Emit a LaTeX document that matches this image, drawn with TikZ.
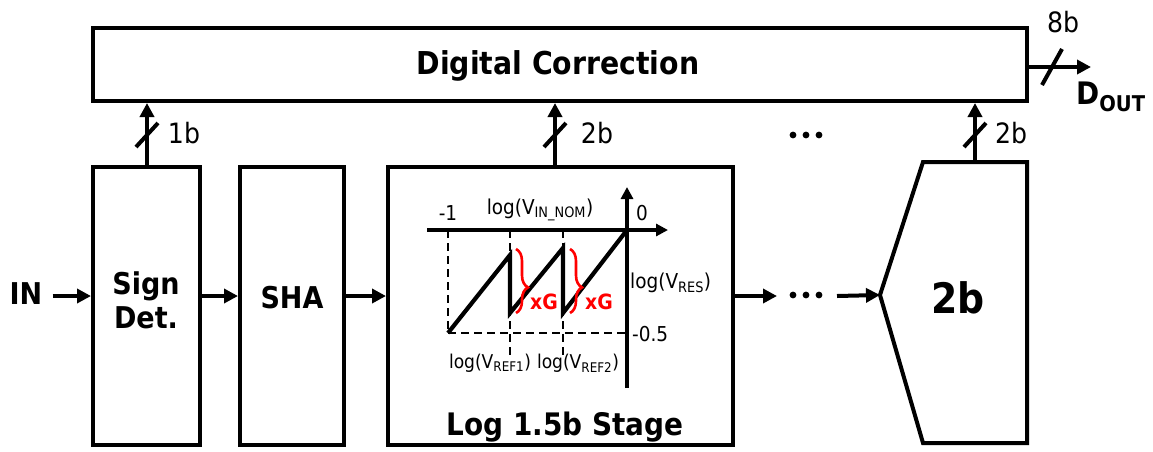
\documentclass[tikz,border=0pt]{standalone}
\usepackage{fontspec}
\setmainfont{DejaVu Sans Condensed}
\usetikzlibrary{arrows.meta,decorations.pathreplacing}

\tikzset{
  wire/.style={line width=4pt},
  arr/.style={wire, -{Triangle[length=14pt,width=14pt]}},
  blk/.style={draw, line width=4pt, inner sep=0pt, align=center,
              font=\fontsize{30}{32}\selectfont\bfseries},
  buslbl/.style={font=\fontsize{28}{30}\selectfont, inner sep=0pt},
  axis/.style={line width=3.5pt},
  guide/.style={line width=2.5pt, dash pattern=on 8pt off 5pt},
  curve/.style={line width=4.2pt, line join=miter},
  glbl/.style={font=\fontsize{20.5}{22}\selectfont, inner sep=0pt},
  reflbl/.style={font=\fontsize{19}{20}\selectfont, inner sep=0pt},
  gain/.style={red, line width=2.6pt, decorate,
               decoration={brace, amplitude=12pt, aspect=0.6}},
  gainlbl/.style={red, font=\fontsize{21}{22}\selectfont\bfseries, inner sep=0pt},
}

\begin{document}
\begin{tikzpicture}[x=1pt, y=-1pt]
\useasboundingbox (0,0) rectangle (1153,451);

% ---- blocks ----
\node[blk, minimum width=934pt, minimum height=73pt] (dc) at (560,64.5) {};
\node[font=\fontsize{31.5}{33}\selectfont\bfseries, inner sep=0pt] (dctxt) at (558,66) {Digital Correction};
\node[blk, minimum width=107pt, minimum height=278pt] (sign) at (146.5,306) {};
\node[blk, minimum width=104pt, minimum height=278pt] (sha) at (292,306) {};
\node[blk, minimum width=345pt, minimum height=278pt] (log) at (560.5,306) {};

\node[font=\fontsize{30}{34}\selectfont\bfseries, align=center, inner sep=0pt]
  (signtxt) at (146,300) {Sign\\Det.};
\node[font=\fontsize{30}{32}\selectfont\bfseries, inner sep=0pt] (shatxt) at (292,298) {SHA};
\node[font=\fontsize{31}{33}\selectfont\bfseries, inner sep=0pt] (logtxt) at (565,427) {Log 1.5b Stage};

% last 2b stage (pointed input side)
\coordinate (tl) at (923,162);
\coordinate (tr) at (1027,162);
\coordinate (br) at (1027,443);
\coordinate (bl) at (923,443);
\coordinate (tip) at (880,295);
\draw[wire, line join=miter] (tl) -- (tr) -- (br) -- (bl) -- (tip) -- cycle;
\node[font=\fontsize{42}{44}\selectfont\bfseries, inner sep=0pt] (last) at (958,298) {2b};

% ---- signal chain ----
\node[font=\fontsize{30}{32}\selectfont\bfseries, inner sep=0pt] (in) at (26,294) {IN};
\coordinate (chain) at (0,296);
\draw[arr] ([xshift=10pt]in.east |- chain) -- (sign.west |- chain);
\draw[arr] (sign.east |- chain) -- (sha.west |- chain);
\draw[arr] (sha.east |- chain) -- (log.west |- chain);
\coordinate (gap1) at (777,296);
\coordinate (gap2) at (837,296);
\draw[arr] (log.east |- chain) -- (gap1);
\draw[arr] (gap2) -- (tip);
\foreach \x in {793,806,819} \fill (\x,295) circle (3.4pt);
\foreach \x in {793,806,819} \fill (\x,135) circle (3.4pt);

% ---- digital outputs ----
\coordinate (s1) at (147,135);
\draw[arr] (sign.north -| s1) -- (dc.south -| s1);
\draw[wire] ([shift={(-11,12)}]s1) -- ([shift={(11,-12)}]s1);
\node[buslbl] at (184,133) {1b};

\coordinate (s2) at (555,135);
\draw[arr] (log.north -| s2) -- (dc.south -| s2);
\draw[wire] ([shift={(-11,12)}]s2) -- ([shift={(11,-12)}]s2);
\node[buslbl] at (597,133) {2b};

\coordinate (s3) at (975,135);
\draw[arr] (tl -| s3) -- (dc.south -| s3);
\draw[wire] ([shift={(-11,12)}]s3) -- ([shift={(11,-12)}]s3);
\node[buslbl] at (1011,133) {2b};

\coordinate (s4) at (1052,67);
\coordinate (dout) at (1091,67);
\draw[arr] (dc.east |- dout) -- (dout);
\draw[wire] ([shift={(-10,18)}]s4) -- ([shift={(10,-18)}]s4);
\node[buslbl] at (1063,22) {8b};
\node[font=\fontsize{31}{33}\selectfont\bfseries, inner sep=0pt, anchor=west] (doutlbl) at (1076,97)
  {D\textsubscript{OUT}};

% ---- log residue transfer curve ----
\coordinate (o) at (627,230);
\coordinate (xa) at (668,230);
\coordinate (xs) at (427,230);
\coordinate (ya) at (627,187);
\coordinate (ys) at (627,388);
\draw[guide] (448,230) -- (448,333);
\draw[guide] (510,230) -- (510,355);
\draw[guide] (563,230) -- (563,355);
\draw[guide] (448,333) -- (627,333);
\draw[axis, -{Triangle[length=12pt,width=12pt]}] (xs) -- (xa);
\draw[axis, -{Triangle[length=12pt,width=12pt]}] (ys) -- (ya);
\draw[curve] (448,333) -- (510,255) -- (510,313) -- (563,248) -- (563,313) -- (o);

\draw[gain] (516,249) -- (516,313);
\draw[gain] (570,249) -- (570,313);
\node[gainlbl] at (544,302) {xG};
\node[gainlbl] at (599,302) {xG};

\node[glbl] at (448,213) {-1};
\node[glbl] at (642,213) {0};
\node[glbl] at (540,210) {log(V\textsubscript{IN\_NOM})};
\node[glbl, anchor=west] at (630,283) {log(V\textsubscript{RES})};
\node[glbl, anchor=west] at (632,334) {-0.5};
\node[reflbl] at (490,363) {log(V\textsubscript{REF1})};
\node[reflbl] at (578,363) {log(V\textsubscript{REF2})};
\end{tikzpicture}
\end{document}
